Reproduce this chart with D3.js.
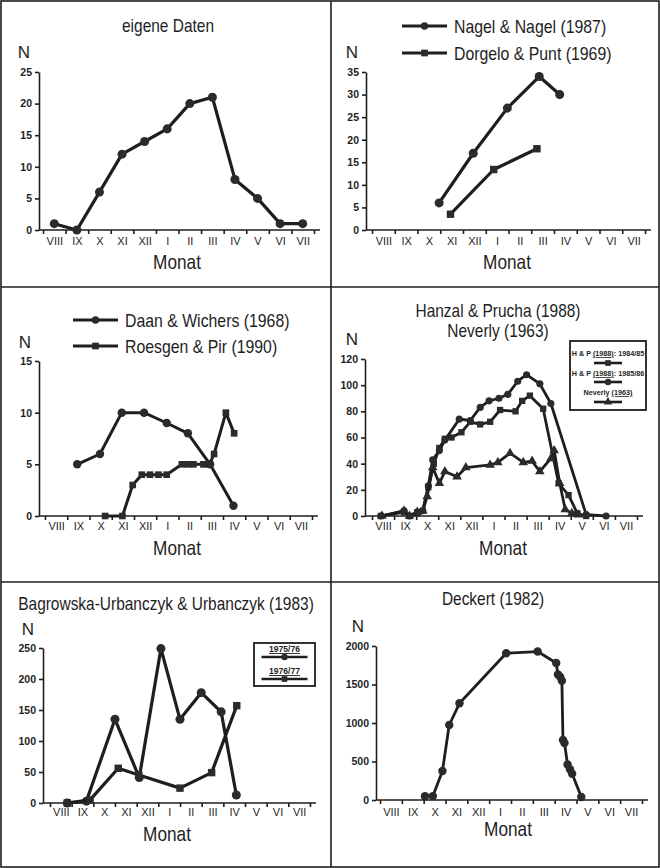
<!DOCTYPE html>
<html>
<head>
<meta charset="utf-8">
<script src="https://cdn.jsdelivr.net/npm/d3@7"></script>
<style>
  body { margin: 0; background: #fff; }
  text, tspan { font-family: "Liberation Sans", Arial, "Helvetica", sans-serif; fill: #1e1e1e; }
  .yaxis text { font-size: 10.5px; font-weight: bold; }
  .mlab text { font-size: 11px; }
  .axis path, .axis line { stroke: #1e1e1e; stroke-width: 1.6px; }
</style>
</head>
<body>
<svg id="chart" width="660" height="868"></svg>
<script>
// month labels (season runs from August to July)
var monate = ["VIII", "IX", "X", "XI", "XII", "I", "II", "III", "IV", "V", "VI", "VII"];

// eigene Daten  (T = position in months from start of August)
var eigeneT = [0.5, 1.5, 2.5, 3.5, 4.5, 5.5, 6.5, 7.5, 8.5, 9.5, 10.5, 11.5];
var eigeneN = [1, 0, 6, 12, 14, 16, 20, 21, 8, 5, 1, 1];

// Nagel & Nagel (1987) / Dorgelo & Punt (1969)
var nagelT = [2.95, 4.45, 5.95, 7.35, 8.25];
var nagelN = [6, 17, 27, 34, 30];
var dorgeloT = [3.45, 5.35, 7.25];
var dorgeloN = [3.5, 13.4, 18];

// Daan & Wichers (1968) / Roesgen & Pir (1990)
var daanT = [1.45, 2.47, 3.45, 4.45, 5.47, 6.42, 7.42, 8.47];
var daanN = [5, 6, 10, 10, 9, 8, 5, 1];
var roesgenT = [2.7, 3.48, 3.94, 4.35, 4.72, 5.1, 5.47, 6.15, 6.4, 6.67, 7.12, 7.39, 7.6, 8.13, 8.5];
var roesgenN = [0, 0, 3, 4, 4, 4, 4, 5, 5, 5, 5, 5, 6, 10, 8];

// Hanzal & Prucha (1988) 1984/85, 1985/86 / Neverly (1963)
var hp8485T = [0.4, 1.45, 1.7, 2.05, 2.3, 2.55, 2.8, 3.05, 3.3, 3.6, 4.05, 4.45, 4.9, 5.35, 5.8, 6.5, 6.8, 7.15, 7.75, 8.45, 8.9, 9.3, 9.7];
var hp8485N = [0, 3, 0, 3, 4, 22, 40, 52, 59, 60, 64, 72, 70, 72, 81, 80, 88, 92, 82, 25, 16, 2, 0];
var hp8586T = [0.4, 1.45, 1.7, 2.05, 2.3, 2.55, 2.75, 3.05, 3.3, 3.95, 4.45, 4.9, 5.3, 5.75, 6.15, 6.6, 7.0, 7.6, 8.1, 9.7, 10.6];
var hp8586N = [0, 4, 0, 2, 4, 23, 43, 50, 58, 74, 73, 83, 88, 90, 93, 103, 108, 101, 86, 1, 0];
var neverlyT = [0.45, 1.45, 1.7, 2.05, 2.3, 2.5, 2.75, 3.05, 3.3, 3.85, 4.25, 5.35, 5.7, 6.25, 6.85, 7.25, 7.6, 8.1, 8.25, 8.5, 8.75, 9.05, 9.35];
var neverlyN = [0, 4, 0, 3, 4, 15, 37, 25, 34, 30, 37, 39, 41, 48, 41, 42, 34, 44, 50, 25, 5, 2, 1];

// Bagrowska-Urbanczyk & Urbanczyk (1983)
var bu7576T = [0.8, 1.68, 3.0, 4.12, 5.12, 6.0, 6.98, 7.9, 8.6];
var bu7576N = [0, 3, 135, 41, 249, 135, 178, 147, 13];
var bu7677T = [0.8, 1.85, 3.15, 4.1, 6.0, 7.46, 8.62];
var bu7677N = [0, 5, 56, 45, 24, 49, 157];

// Deckert (1982)
var deckertT = [2.06, 2.42, 2.86, 3.17, 3.64, 5.78, 7.22, 8.07, 8.15, 8.25, 8.33, 8.38, 8.45, 8.59, 8.7, 8.8, 9.22];
var deckertN = [50, 50, 376, 974, 1256, 1905, 1928, 1780, 1630, 1600, 1550, 780, 740, 460, 400, 340, 40];

var svg = d3.select("#chart");
var ink = "#1e1e1e";
var markFill = "#2b2b2b";

// frame of the six panels
svg.append("rect").attr("x", 1).attr("y", 1).attr("width", 658).attr("height", 866)
  .attr("fill", "none").attr("stroke", ink).attr("stroke-width", 1.6);
svg.append("line").attr("x1", 331).attr("x2", 331).attr("y1", 1).attr("y2", 867).attr("stroke", ink).attr("stroke-width", 1.6);
[287, 582].forEach(function(yy) {
  svg.append("line").attr("x1", 1).attr("x2", 659).attr("y1", yy).attr("y2", yy).attr("stroke", ink).attr("stroke-width", 1.6);
});

var shapes = { circle: d3.symbolCircle, square: d3.symbolSquare, triangle: d3.symbolTriangle };

// condensed text (the original uses a narrow Helvetica)
function ntext(parent, x, y, str, size, sx, anchor) {
  return parent.append("text")
    .attr("transform", "translate(" + x + "," + y + ") scale(" + sx + ",1)")
    .attr("text-anchor", anchor || "middle")
    .style("font-size", size + "px")
    .text(str);
}

function panel(p) {
  var g = svg.append("g");
  var x = d3.scaleLinear().domain([0, 12]).range([p.x0, p.x1]);
  var y = d3.scaleLinear().domain([0, p.yMax]).range([p.yb, p.yt]);

  // Y axis
  g.append("g").attr("class", "axis yaxis")
    .attr("transform", "translate(" + p.ax + ",0)")
    .call(d3.axisLeft(y).tickValues(p.yTicks).tickSize(4).tickSizeOuter(0).tickPadding(3).tickFormat(d3.format("d")));

  // X axis: ticks on month borders, labels in the middle of each month
  var xa = g.append("g").attr("class", "axis")
    .attr("transform", "translate(0," + p.yb + ")")
    .call(d3.axisBottom(x).tickValues(d3.range(13)).tickSize(4).tickFormat(""));
  xa.select(".domain").remove();
  xa.append("line").attr("x1", p.ax).attr("x2", x(12) + 6).attr("stroke", ink).attr("stroke-width", 1.6);

  var ml = g.append("g").attr("class", "mlab")
    .attr("transform", "translate(0," + p.yb + ")")
    .call(d3.axisBottom(x).tickValues(d3.range(12).map(function(i) { return i + 0.5; }))
      .tickSize(0).tickPadding(p.mPad).tickFormat(function(d) { return monate[Math.floor(d)]; }));
  ml.select(".domain").remove();

  // titles
  (p.title || []).forEach(function(t) {
    ntext(g, t[0], t[1], t[2], 18, 0.86);
  });
  g.append("text").attr("x", p.n[0]).attr("y", p.n[1]).attr("text-anchor", "middle")
    .style("font-size", "17px").text("N");
  ntext(g, p.monat[0], p.monat[1], "Monat", 21, 0.82);

  // series
  var line = d3.line().x(function(d) { return x(d[0]); }).y(function(d) { return y(d[1]); });
  p.series.forEach(function(s) {
    var pts = d3.zip(s.t, s.n);
    g.append("path").datum(pts).attr("d", line)
      .attr("fill", "none").attr("stroke", ink).attr("stroke-width", p.lw).attr("stroke-linejoin", "round");
    g.selectAll(null).data(pts).enter().append("path")
      .attr("transform", function(d) { return "translate(" + x(d[0]) + "," + y(d[1]) + ")"; })
      .attr("d", d3.symbol().type(shapes[s.shape]).size(s.size || p.ms))
      .attr("fill", markFill);
  });
  return g;
}

// big legend (line with marker and label next to it)
function bigLegend(items) {
  items.forEach(function(it) {
    svg.append("line").attr("x1", it.x1).attr("x2", it.x2).attr("y1", it.y).attr("y2", it.y)
      .attr("stroke", ink).attr("stroke-width", 3.2);
    svg.append("path").attr("transform", "translate(" + ((it.x1 + it.x2) / 2) + "," + it.y + ")")
      .attr("d", d3.symbol().type(shapes[it.shape]).size(45)).attr("fill", markFill);
    ntext(svg, it.tx, it.y + 7, it.label, 18, 0.88, "start");
  });
}

// boxed legend (small label above a line with marker; the citation year underlined)
function boxLegend(box, items) {
  svg.append("rect").attr("x", box[0]).attr("y", box[1]).attr("width", box[2]).attr("height", box[3])
    .attr("fill", "#fff").attr("stroke", ink).attr("stroke-width", 1.8);
  var cx = box[0] + box[2] / 2;
  items.forEach(function(it) {
    var t = svg.append("text")
      .attr("transform", "translate(" + cx + "," + it.ty + ") scale(" + it.sx + ",1)")
      .attr("text-anchor", "middle")
      .style("font-size", it.fs + "px").style("font-weight", "bold");
    it.parts.forEach(function(part, i) {
      t.append("tspan").text(part).attr("fill", ink)
        .style("text-decoration", i === it.ul ? "underline" : "none");
    });
    svg.append("line").attr("x1", cx - it.w / 2).attr("x2", cx + it.w / 2).attr("y1", it.y).attr("y2", it.y)
      .attr("stroke", ink).attr("stroke-width", 2.6);
    svg.append("path").attr("transform", "translate(" + cx + "," + it.y + ")")
      .attr("d", d3.symbol().type(shapes[it.shape]).size(32)).attr("fill", markFill);
  });
}

// 1: eigene Daten
panel({
  ax: 39, x0: 43, x1: 314, yb: 230, yt: 72, yMax: 25, yTicks: [0, 5, 10, 15, 20, 25],
  mPad: 7, lw: 3.2, ms: 64,
  title: [[168, 32, "eigene Daten"]], n: [24, 58], monat: [177, 269],
  series: [{ t: eigeneT, n: eigeneN, shape: "circle" }]
});

// 2: Nagel & Nagel / Dorgelo & Punt
panel({
  ax: 366, x0: 372, x1: 645, yb: 230, yt: 72, yMax: 35, yTicks: [0, 5, 10, 15, 20, 25, 30, 35],
  mPad: 7, lw: 3.2, ms: 64,
  n: [352, 58], monat: [507, 269],
  series: [{ t: nagelT, n: nagelN, shape: "circle" }, { t: dorgeloT, n: dorgeloN, shape: "square", size: 55 }]
});
bigLegend([
  { x1: 402, x2: 447, y: 26, tx: 454, shape: "circle", label: "Nagel & Nagel (1987)" },
  { x1: 402, x2: 447, y: 53, tx: 454, shape: "square", label: "Dorgelo & Punt (1969)" }
]);

// 3: Daan & Wichers / Roesgen & Pir
panel({
  ax: 39, x0: 45, x1: 312, yb: 516, yt: 361, yMax: 15, yTicks: [0, 5, 10, 15],
  mPad: 6, lw: 3, ms: 56,
  n: [25, 348], monat: [177, 555],
  series: [{ t: daanT, n: daanN, shape: "circle" }, { t: roesgenT, n: roesgenN, shape: "square", size: 44 }]
});
bigLegend([
  { x1: 73, x2: 118, y: 320, tx: 125, shape: "circle", label: "Daan & Wichers (1968)" },
  { x1: 73, x2: 118, y: 346, tx: 125, shape: "square", label: "Roesgen & Pir (1990)" }
]);

// 4: Hanzal & Prucha / Neverly
panel({
  ax: 365, x0: 372, x1: 637, yb: 516, yt: 359, yMax: 120, yTicks: [0, 20, 40, 60, 80, 100, 120],
  mPad: 6, lw: 2.8, ms: 40,
  title: [[498, 317, "Hanzal & Prucha (1988)"], [498, 337, "Neverly (1963)"]],
  n: [352, 345], monat: [503, 555],
  series: [
    { t: hp8485T, n: hp8485N, shape: "square" },
    { t: hp8586T, n: hp8586N, shape: "circle" },
    { t: neverlyT, n: neverlyN, shape: "triangle" }
  ]
});
boxLegend([570, 341, 76, 69], [
  { ty: 356, y: 363, w: 28, fs: 8, sx: 0.9, shape: "square", parts: ["H & P ", "(1988)", ": 1984/85"], ul: 1 },
  { ty: 376, y: 382, w: 28, fs: 8, sx: 0.9, shape: "circle", parts: ["H & P ", "(1988)", ": 1985/86"], ul: 1 },
  { ty: 395, y: 402, w: 28, fs: 8, sx: 0.9, shape: "triangle", parts: ["Neverly ", "(1963)"], ul: 1 }
]);

// 5: Bagrowska-Urbanczyk & Urbanczyk
panel({
  ax: 43, x0: 50, x1: 310, yb: 803, yt: 648, yMax: 250, yTicks: [0, 50, 100, 150, 200, 250],
  mPad: 5, lw: 3.2, ms: 64,
  title: [[166, 610, "Bagrowska-Urbanczyk & Urbanczyk (1983)"]], n: [28, 635], monat: [167, 841],
  series: [{ t: bu7576T, n: bu7576N, shape: "circle" }, { t: bu7677T, n: bu7677N, shape: "square", size: 55 }]
});
boxLegend([254, 643, 61, 43], [
  { ty: 652, y: 657, w: 46, fs: 9, sx: 0.95, shape: "circle", parts: ["1975/76"], ul: 0 },
  { ty: 674, y: 679, w: 46, fs: 9, sx: 0.95, shape: "square", parts: ["1976/77"], ul: 0 }
]);

// 6: Deckert
panel({
  ax: 376, x0: 380, x1: 642, yb: 800, yt: 646, yMax: 2000, yTicks: [0, 500, 1000, 1500, 2000],
  mPad: 8, lw: 2.8, ms: 56,
  title: [[493, 605, "Deckert (1982)"]], n: [358, 632], monat: [508, 836],
  series: [{ t: deckertT, n: deckertN, shape: "circle" }]
});
</script>
</body>
</html>
